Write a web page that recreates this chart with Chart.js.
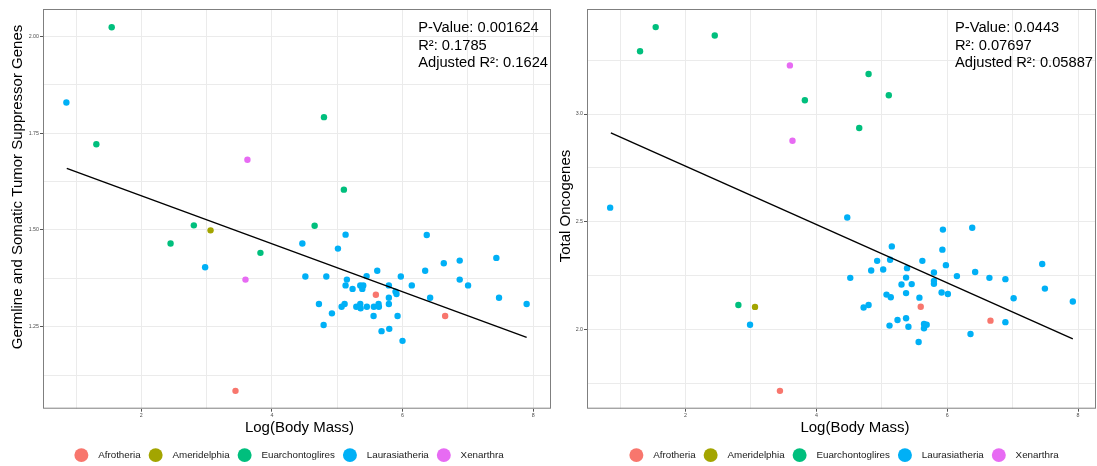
<!DOCTYPE html>
<html>
<head>
<meta charset="utf-8">
<script src="https://cdn.jsdelivr.net/npm/chart.js@4"></script>
<style>
  html, body { margin: 0; padding: 0; background: #fff; overflow: hidden; }
  #wrap { position: relative; width: 1097px; height: 466px; overflow: hidden; }
  canvas { position: absolute; top: 0; }
</style>
</head>
<body>
<div id="wrap">
  <canvas id="tsgChart" width="552" height="470" style="left:0"></canvas>
  <canvas id="oncChart" width="545" height="470" style="left:552px"></canvas>
</div>
<script>
const groupNames = ['Afrotheria', 'Ameridelphia', 'Euarchontoglires', 'Laurasiatheria', 'Xenarthra'];
const groupColors = ['#F8766D', '#A3A500', '#00BF7D', '#00B0F6', '#E76BF3'];

// x ticks (shared): grid at every integer, labels on even ones
const xGrid = [1, 2, 3, 4, 5, 6, 7, 8];
const xLabels = [2, 4, 6, 8];

// Left panel: tumor suppressor genes, [logBodyMass, value]
const tsgAfrotheria = [[5.592, 1.333], [6.653, 1.278], [3.442, 1.085]];
const tsgAmeridelphia = [[3.060, 1.499]];
const tsgEuarchontoglires = [[1.546, 2.023], [1.311, 1.721], [4.797, 1.791], [5.102, 1.604],
  [4.654, 1.511], [2.804, 1.512], [2.448, 1.465], [3.824, 1.441]];
const tsgLaurasiatheria = [[0.852, 1.829], [2.977, 1.404], [5.128, 1.488], [6.371, 1.487],
  [4.466, 1.465], [5.011, 1.452], [7.437, 1.428], [6.876, 1.421], [6.632, 1.414], [6.347, 1.395],
  [5.613, 1.395], [4.512, 1.380], [4.833, 1.380], [5.450, 1.381], [5.974, 1.380], [5.148, 1.372],
  [6.876, 1.372], [5.128, 1.357], [5.353, 1.357], [5.399, 1.357], [5.791, 1.357], [6.142, 1.357],
  [7.004, 1.357], [5.235, 1.348], [5.384, 1.348], [5.893, 1.341], [5.908, 1.335], [5.791, 1.325],
  [6.423, 1.325], [7.478, 1.325], [4.720, 1.309], [5.113, 1.309], [5.067, 1.302], [5.292, 1.302],
  [5.353, 1.309], [5.358, 1.298], [5.454, 1.302], [5.561, 1.302], [5.633, 1.309], [5.638, 1.302],
  [5.791, 1.309], [7.901, 1.309], [4.919, 1.285], [5.557, 1.278], [5.924, 1.278], [4.792, 1.255],
  [5.797, 1.245], [5.679, 1.239], [6.000, 1.214]];
const tsgXenarthra = [[3.625, 1.681], [3.595, 1.372]];
const tsgFitX = [0.858, 7.901];
const tsgFitY = [1.659, 1.223];
const tsgYGrid = [1.125, 1.25, 1.375, 1.5, 1.625, 1.75, 1.875, 2];
const tsgYLabels = [1.25, 1.5, 1.75, 2];
const tsgStats = ['P-Value: 0.001624', 'R\u00b2: 0.1785', 'Adjusted R\u00b2: 0.1624'];

// Right panel: oncogenes
const oncAfrotheria = [[5.595, 2.105], [6.661, 2.040], [3.443, 1.714]];
const oncAmeridelphia = [[3.062, 2.104]];
const oncEuarchontoglires = [[1.544, 3.404], [1.305, 3.292], [2.447, 3.365], [3.824, 3.064],
  [4.798, 3.186], [5.107, 3.087], [4.655, 2.935], [2.808, 2.113]];
const oncLaurasiatheria = [[0.848, 2.565], [2.986, 2.021], [4.472, 2.519], [6.382, 2.472],
  [5.934, 2.463], [5.153, 2.385], [5.926, 2.370], [4.929, 2.318], [5.127, 2.323], [5.620, 2.318],
  [7.452, 2.303], [5.980, 2.298], [4.838, 2.273], [5.021, 2.278], [5.386, 2.284], [5.797, 2.264],
  [6.427, 2.266], [4.518, 2.239], [5.371, 2.240], [6.148, 2.247], [6.645, 2.239], [6.889, 2.233],
  [5.797, 2.224], [5.301, 2.208], [5.457, 2.210], [5.797, 2.211], [5.914, 2.171], [6.010, 2.164],
  [5.371, 2.168], [7.493, 2.189], [5.072, 2.161], [5.137, 2.149], [5.575, 2.147], [7.015, 2.144],
  [7.920, 2.129], [4.798, 2.113], [4.722, 2.101], [5.240, 2.043], [5.371, 2.051], [6.889, 2.033],
  [5.118, 2.017], [5.407, 2.012], [5.645, 2.025], [5.686, 2.021], [5.645, 2.005], [6.356, 1.978],
  [5.563, 1.941]];
const oncXenarthra = [[3.595, 3.226], [3.635, 2.876]];
const oncFitX = [0.859, 7.920];
const oncFitY = [2.912, 1.955];
const oncYGrid = [1.75, 2, 2.25, 2.5, 2.75, 3, 3.25];
const oncYLabels = [2, 2.5, 3];
const oncStats = ['P-Value: 0.0443', 'R\u00b2: 0.07697', 'Adjusted R\u00b2: 0.05887'];

const FONT = '"Liberation Sans", Arial, sans-serif';

// panel box, stats text, axis titles, legend placement
const panelDecor = {
  id: 'panelDecor',
  afterLayout(chart, args, opts) {
    const lg = chart.legend;
    if (!lg) return;
    const dx = opts.legendX - (lg.left + lg.right) / 2;
    lg.left += dx;
    lg.right += dx;
  },
  beforeDatasetsDraw(chart) {
    const {ctx, chartArea: a} = chart;
    ctx.save();
    ctx.strokeStyle = '#7f7f7f';
    ctx.lineWidth = 1;
    ctx.strokeRect(a.left + 0.5, a.top + 0.5, a.right - a.left - 1, a.bottom - a.top - 1);
    ctx.restore();
  },
  afterDraw(chart, args, opts) {
    const {ctx, chartArea: a} = chart;
    ctx.save();
    ctx.fillStyle = '#000';
    ctx.textBaseline = 'middle';
    ctx.font = '14.7px ' + FONT;
    const w = Math.max(...opts.stats.map(s => ctx.measureText(s).width));
    opts.stats.forEach((s, i) => ctx.fillText(s, a.right - 3 - w, a.top + 19 + i * 17.5));

    ctx.font = '15px ' + FONT;
    ctx.textAlign = 'center';
    ctx.fillText('Log(Body Mass)', opts.xTitleX, 428);
    ctx.translate(opts.titleX, opts.titleY);
    ctx.rotate(-Math.PI / 2);
    ctx.fillText(opts.yTitle, 0, 0);
    ctx.restore();
  }
};

function axisOptions(grid, labeled, min, max, fmt, size) {
  return {
    type: 'linear',
    min: min,
    max: max,
    afterBuildTicks: s => { s.ticks = grid.map(v => ({value: v})); },
    afterFit: s => {
      if (s.isHorizontal()) s.height = size; else s.width = size;
      s.paddingLeft = 0; s.paddingRight = 0; s.paddingTop = 0; s.paddingBottom = 0;
    },
    ticks: {
      autoSkip: false,
      maxRotation: 0,
      padding: 1,
      color: '#4d4d4d',
      font: {size: 5.3, family: FONT},
      callback: v => labeled.includes(v) ? fmt(v) : ''
    },
    grid: {
      color: '#ebebeb',
      lineWidth: 1,
      tickLength: 3,
      tickColor: c => labeled.includes(c.tick.value) ? '#555' : 'rgba(0,0,0,0)'
    },
    border: {display: false}
  };
}

function buildPanel(canvasId, p) {
  const datasets = p.groups.map((pts, i) => ({
    label: groupNames[i],
    data: pts,
    backgroundColor: groupColors[i],
    borderWidth: 0,
    pointBorderWidth: 0,
    pointRadius: 3.2,
    order: 1
  }));
  datasets.push({
    label: 'fit',
    data: p.fitX.map((x, i) => ({x: x, y: p.fitY[i]})),
    showLine: true,
    borderColor: '#000',
    borderWidth: 1.4,
    pointRadius: 0,
    order: 0
  });

  return new Chart(document.getElementById(canvasId), {
    type: 'scatter',
    data: {datasets: datasets},
    options: {
      responsive: false,
      animation: false,
      events: [],
      layout: {autoPadding: false, padding: {top: 9, right: 1, left: 0, bottom: 0}},
      scales: {
        x: axisOptions(xGrid, xLabels, 0.494, 8.274, v => String(v), 33.5),
        y: axisOptions(p.yGrid, p.yLabels, p.yMin, p.yMax, p.fmt, p.yWidth)
      },
      plugins: {
        tooltip: {enabled: false},
        legend: {
          position: 'bottom',
          labels: {
            usePointStyle: true,
            pointStyle: 'circle',
            pointStyleWidth: 14,
            boxHeight: 10,
            padding: 8,
            color: '#1a1a1a',
            font: {size: 9.8, family: FONT},
            filter: item => item.text !== 'fit',
            generateLabels: chart => Chart.defaults.plugins.legend.labels.generateLabels(chart)
              .map(item => Object.assign(item, {text: item.text === 'fit' ? 'fit' : '\u2002' + item.text}))
          }
        },
        panelDecor: {
          stats: p.stats, yTitle: p.yTitle, titleX: p.titleX, titleY: p.titleY,
          xTitleX: p.xTitleX, legendX: p.legendX
        }
      }
    },
    plugins: [panelDecor]
  });
}

buildPanel('tsgChart', {
  groups: [tsgAfrotheria, tsgAmeridelphia, tsgEuarchontoglires, tsgLaurasiatheria, tsgXenarthra],
  fitX: tsgFitX, fitY: tsgFitY,
  yGrid: tsgYGrid, yLabels: tsgYLabels, yMin: 1.039, yMax: 2.07,
  fmt: v => v.toFixed(2), yWidth: 43,
  stats: tsgStats,
  yTitle: 'Germline and Somatic Tumor Suppressor Genes', titleX: 18, titleY: 187,
  xTitleX: 299.5, legendX: 289
});

buildPanel('oncChart', {
  groups: [oncAfrotheria, oncAmeridelphia, oncEuarchontoglires, oncLaurasiatheria, oncXenarthra],
  fitX: oncFitX, fitY: oncFitY,
  yGrid: oncYGrid, yLabels: oncYLabels, yMin: 1.631, yMax: 3.488,
  fmt: v => v.toFixed(1), yWidth: 35,
  stats: oncStats,
  yTitle: 'Total Oncogenes', titleX: 13.5, titleY: 206,
  xTitleX: 303, legendX: 292
});
</script>
</body>
</html>
